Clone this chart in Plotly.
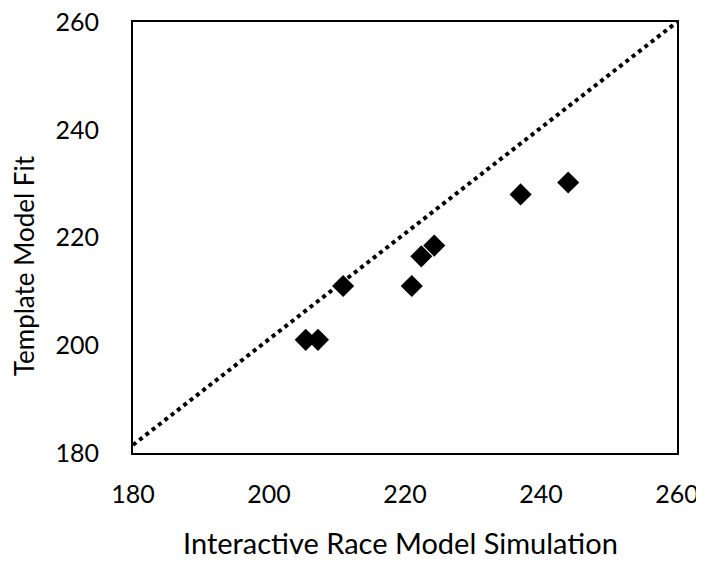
import plotly.graph_objects as go

# simulation vs template fits
sim_x = [205.4, 207.2, 210.9, 221.0, 222.4, 224.3, 237.0, 244.0]
fit_y = [201.0, 201.0, 211.0, 211.0, 216.5, 218.5, 228.0, 230.2]

# reference line
ref_x = [180, 260]
ref_y = [181.5, 260]

ticks = [180, 200, 220, 240, 260]

fig = go.Figure()

fig.add_trace(go.Scatter(x=ref_x, y=ref_y, mode='lines',
                         line=dict(color='black', width=4, dash='dot'),
                         showlegend=False, cliponaxis=False))

fig.add_trace(go.Scatter(x=sim_x, y=fit_y, mode='markers',
                         marker=dict(symbol='diamond', size=17, color='black'),
                         showlegend=False))

# axis titles as annotations so the margins stay put
fig.add_annotation(text='Interactive Race Model Simulation', xref='paper', yref='paper',
                   x=0.491, y=-0.207, xanchor='center', yanchor='middle',
                   showarrow=False, font=dict(size=29))
fig.add_annotation(text='Template Model Fit', xref='paper', yref='paper',
                   x=-0.2, y=0.434, xanchor='center', yanchor='middle',
                   textangle=-90, showarrow=False, font=dict(size=26))

# page body has an 8px margin, so shift the margins to keep the frame in place
fig.update_layout(
    width=704, height=562,
    margin=dict(l=125, r=35, t=14, b=117),
    plot_bgcolor='white', paper_bgcolor='white',
    font=dict(family='Lato, Open Sans, sans-serif', size=25, color='black'),
    xaxis=dict(range=[180, 260], tickvals=ticks, showgrid=False, zeroline=False,
               showline=True, linecolor='black', linewidth=2, mirror=True,
               ticks='', ticklabelstandoff=18, automargin=False,
               ticklabeloverflow='allow'),
    yaxis=dict(range=[180, 260], tickvals=ticks, showgrid=False, zeroline=False,
               showline=True, linecolor='black', linewidth=2, mirror=True,
               ticks='', ticklabelstandoff=27, automargin=False,
               ticklabeloverflow='allow'),
)

fig.write_html("out.html")
